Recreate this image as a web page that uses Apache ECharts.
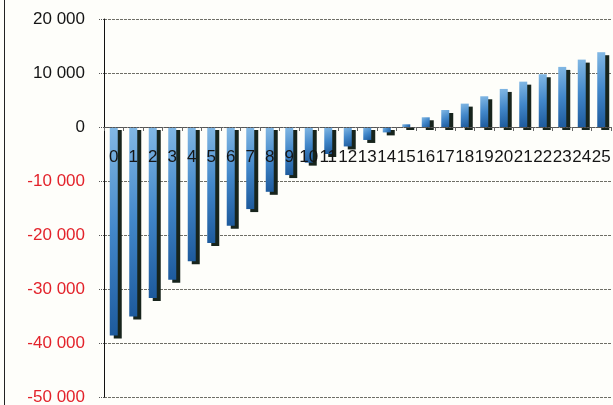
<!DOCTYPE html>
<html>
<head>
<meta charset="utf-8">
<script src="https://cdn.jsdelivr.net/npm/echarts@6/dist/echarts.min.js"></script>
<style>
  html, body { margin: 0; padding: 0; background: #fefefa; }
  #chart { width: 613px; height: 405px; }
</style>
</head>
<body>
<div id="chart"></div>
<script>
// Periods on the category axis
const periods = ['0','1','2','3','4','5','6','7','8','9','10','11','12','13','14','15','16','17','18','19','20','21','22','23','24','25'];
// Cumulative balance per period
const balance = [-38600, -35100, -31650, -28300, -24850, -21500, -18300, -15200, -12000, -8900,
                 -6600, -5000, -3600, -2400, -1000, 500, 1800, 3150, 4330, 5690,
                 7050, 8400, 9770, 11130, 12480, 13850];
// Value axis range and step
const yMin = -50000;
const yMax = 20000;
const yStep = 10000;

const W = 613, H = 405;
const gridTop = 19, gridBottom = 8;

function spaced(v) {
  const s = String(Math.abs(v)).replace(/\B(?=(\d{3})+(?!\d))/g, ' ');
  return (v < 0 ? '-' : '') + s;
}

// distance from the bottom of the plot up to the zero line
const plotH = H - gridTop - gridBottom;
const zeroLift = plotH * (0 - yMin) / (yMax - yMin);

const chart = echarts.init(document.getElementById('chart'), null, { renderer: 'canvas' });

chart.setOption({
  backgroundColor: '#fefefa',
  animation: false,
  grid: { left: 104, right: 2, top: gridTop, bottom: gridBottom, containLabel: false, outerBoundsMode: 'none' },
  graphic: [{
    type: 'line',
    shape: { x1: 4.5, y1: 0, x2: 4.5, y2: H },
    style: { stroke: '#222', lineWidth: 1 }
  }],
  xAxis: {
    type: 'category',
    data: periods,
    position: 'bottom',
    offset: -zeroLift,
    z: 10,
    axisLine: { onZero: false, lineStyle: { color: '#555', type: [2, 1], width: 1 } },
    axisTick: { show: true, interval: 0, length: 4, lineStyle: { color: '#666' } },
    axisLabel: {
      interval: 0,
      margin: 22,
      fontSize: 17,
      color: '#151515',
      fontFamily: 'Liberation Sans, Arial, sans-serif',
      hideOverlap: false
    },
    splitLine: { show: false }
  },
  yAxis: {
    type: 'value',
    min: yMin,
    max: yMax,
    interval: yStep,
    axisLine: { show: true, lineStyle: { color: '#111', width: 1 } },
    axisTick: { show: true, length: 5, lineStyle: { color: '#555', type: [1, 1] } },
    axisLabel: {
      margin: 19,
      fontSize: 17,
      fontFamily: 'Liberation Sans, Arial, sans-serif',
      formatter: spaced,
      color: function (v) { return Number(v) < 0 ? '#e3232b' : '#151515'; }
    },
    splitLine: { show: true, lineStyle: { color: '#6e6e66', type: [3, 1], width: 1 } }
  },
  series: [{
    type: 'bar',
    data: balance,
    barWidth: 8,
    itemStyle: {
      color: new echarts.graphic.LinearGradient(0, 0, 1, 1, [
        { offset: 0, color: '#82b8e4' },
        { offset: 0.5, color: '#4287c9' },
        { offset: 1, color: '#1d5a9c' }
      ]),
      shadowColor: '#17241c',
      shadowBlur: 0,
      shadowOffsetX: 4,
      shadowOffsetY: 3
    }
  }]
});
</script>
</body>
</html>
